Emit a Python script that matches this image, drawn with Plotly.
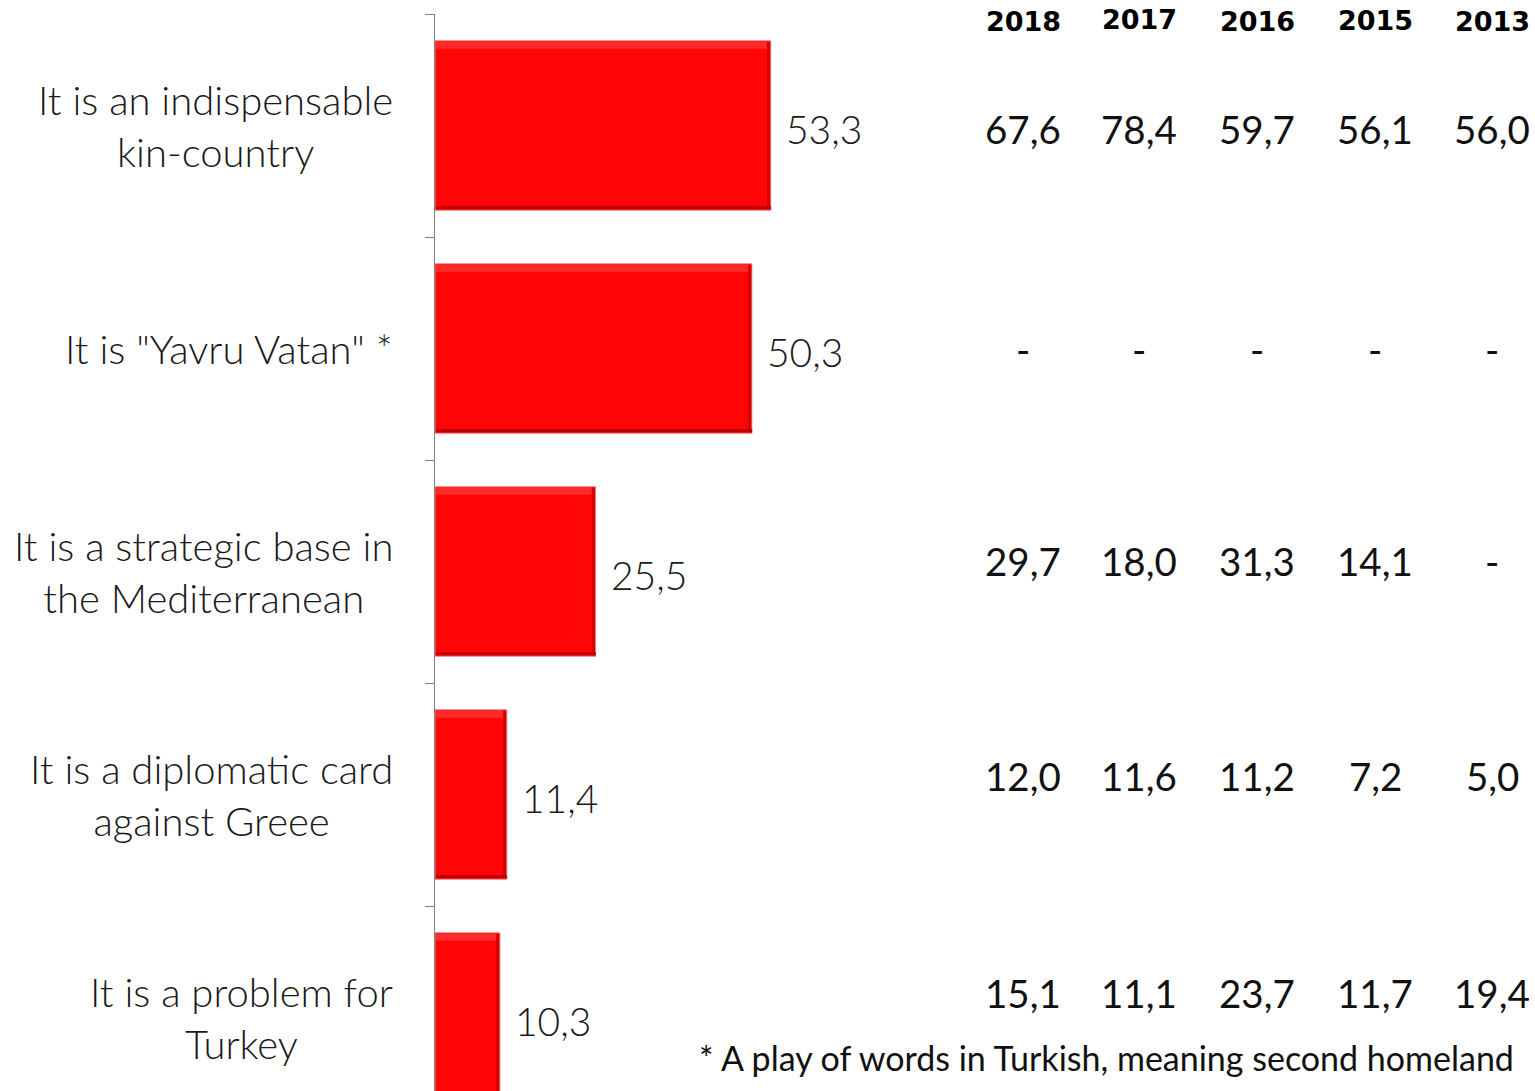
import plotly.graph_objects as go

categories = [
    "It is an indispensable<br>kin-country",
    "It is \"Yavru Vatan\" *",
    "It is a strategic base in<br>the Mediterranean",
    "It is a diplomatic card<br>against Greee",
    "It is a problem for<br>Turkey",
]
values_2019 = [53.3, 50.3, 25.5, 11.4, 10.3]

years = ["2018", "2017", "2016", "2015", "2013"]
hist_2018 = ["67,6", "-", "29,7", "12,0", "15,1"]
hist_2017 = ["78,4", "-", "18,0", "11,6", "11,1"]
hist_2016 = ["59,7", "-", "31,3", "11,2", "23,7"]
hist_2015 = ["56,1", "-", "14,1", "7,2", "11,7"]
hist_2013 = ["56,0", "-", "-", "5,0", "19,4"]
footnote = "* A play of words in Turkish, meaning second homeland"

W, H = 1535, 1091
L, T = 435, 14
PW, PH = W - L, H - T
px_per_unit = 6.30
band = 223.0
BW = 0.76


def px_x(px):
    return (px - L) / PW


def px_y(py):
    return 1 - (py - T) / PH


pos = list(range(len(categories)))
fig = go.Figure()
fig.add_trace(go.Bar(
    x=values_2019, y=pos, orientation="h", width=BW, offset=-BW / 2,
    marker=dict(color="#FF0505", line=dict(color="#EE8A8A", width=1)),
    hoverinfo="skip",
))
# bevel: light top band, dark right and bottom edges
top_w = 7 / band
fig.add_trace(go.Bar(
    x=[v - 0.45 for v in values_2019], base=[0.15] * len(pos), y=pos, orientation="h",
    width=top_w, offset=-BW / 2 + 1 / band,
    marker=dict(color="#FF2B2B", line=dict(width=0)), hoverinfo="skip",
))
edge = 0.5
fig.add_trace(go.Bar(
    x=[edge] * len(pos), base=[v - edge - 0.1 for v in values_2019], y=pos,
    orientation="h", width=BW - 2 / band, offset=-BW / 2 + 1 / band,
    marker=dict(color="#D40000", line=dict(width=0)), hoverinfo="skip",
))
bot_w = 3 / band
fig.add_trace(go.Bar(
    x=[v - 0.1 for v in values_2019], base=[0.15] * len(pos), y=pos, orientation="h",
    width=bot_w, offset=BW / 2 - bot_w - 1 / band,
    marker=dict(color="#BC0000", line=dict(width=0)), hoverinfo="skip",
))

ann = []
LABEL_FONT = dict(family="Lato", size=40, color="#1a1a1a", weight=300)
VAL_FONT = dict(family="Lato", size=38.5, color="#111111")
for i, (c, v) in enumerate(zip(categories, values_2019)):
    ann.append(dict(x=0, xref="paper", y=i, yref="y", text=c, xanchor="right",
                    align="center", xshift=-40, showarrow=False, font=LABEL_FONT))
    ann.append(dict(x=v, xref="x", y=i, yref="y", text=f"{v:.1f}".replace(".", ","),
                    xanchor="left", xshift=13, yshift=-3, showarrow=False,
                    font=dict(family="Lato", size=39, color="#1a1a1a", weight=300)))

col_px = [1023, 1139, 1257, 1375, 1492]
hdr_py = [21, 19, 22, 20, 22]
row_py = [129, 349, 561, 776, 993]
cols = [hist_2018, hist_2017, hist_2016, hist_2015, hist_2013]
for j, (yr, col) in enumerate(zip(years, cols)):
    ann.append(dict(x=px_x(col_px[j]), xref="paper", y=px_y(hdr_py[j]), yref="paper",
                    text=yr, showarrow=False, xanchor="center", yanchor="middle",
                    font=dict(family="DejaVu Sans", size=27, color="#000000", weight="bold")))
    for i, s in enumerate(col):
        ann.append(dict(x=px_x(col_px[j]), xref="paper", y=px_y(row_py[i]), yref="paper",
                        text=s, showarrow=False, xanchor="center", yanchor="middle",
                        font=VAL_FONT))

ann.append(dict(x=px_x(697), xref="paper", y=px_y(1057), yref="paper", text=footnote,
                showarrow=False, xanchor="left", yanchor="middle",
                font=dict(family="Lato", size=34, color="#111111")))

n = len(categories)
fig.update_layout(
    width=W, height=H,
    margin=dict(l=L, r=0, t=T, b=0),
    plot_bgcolor="white", paper_bgcolor="white",
    showlegend=False, barmode="overlay",
    annotations=ann,
    xaxis=dict(range=[0, PW / px_per_unit], visible=False, fixedrange=True),
    yaxis=dict(range=[-0.5 + PH / band, -0.5], showline=True, linecolor="#808080",
               linewidth=1, ticks="outside", ticklen=9, tickcolor="#808080",
               tickvals=[k - 0.5 for k in range(n + 1)], showticklabels=False,
               showgrid=False, zeroline=False, fixedrange=True),
)
fig.write_html(
    "out.html",
    config={"displayModeBar": False},
    post_script="document.body.style.margin='0';document.body.style.overflow='hidden';",
)
